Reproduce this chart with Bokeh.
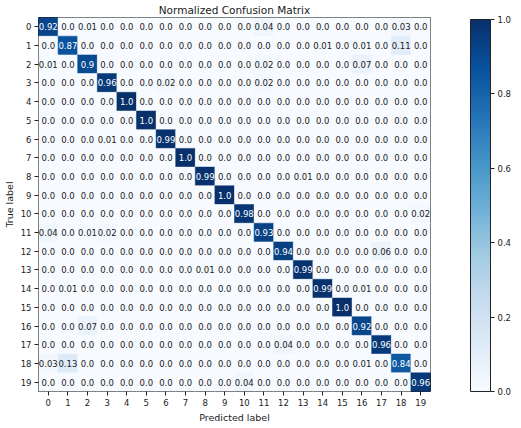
from bokeh.plotting import figure
from bokeh.models import (LinearColorMapper, ColorBar, FixedTicker, Range1d,
                          ColumnDataSource, PrintfTickFormatter)
from bokeh.transform import transform
from bokeh.palettes import Blues256
from bokeh.core.properties import value
from bokeh.embed import file_html
from bokeh.resources import INLINE

class_labels = [str(i) for i in range(20)]
title_text = "Normalized Confusion Matrix"
x_title = "Predicted label"
y_title = "True label"
colorbar_ticks = [0.0, 0.2, 0.4, 0.6, 0.8, 1.0]

# rows = true label, columns = predicted label
confusion = [
    [0.92, 0.0, 0.01, 0.0, 0.0, 0.0, 0.0, 0.0, 0.0, 0.0, 0.0, 0.04, 0.0, 0.0, 0.0, 0.0, 0.0, 0.0, 0.03, 0.0],
    [0.0, 0.87, 0.0, 0.0, 0.0, 0.0, 0.0, 0.0, 0.0, 0.0, 0.0, 0.0, 0.0, 0.0, 0.01, 0.0, 0.01, 0.0, 0.11, 0.0],
    [0.01, 0.0, 0.9, 0.0, 0.0, 0.0, 0.0, 0.0, 0.0, 0.0, 0.0, 0.02, 0.0, 0.0, 0.0, 0.0, 0.07, 0.0, 0.0, 0.0],
    [0.0, 0.0, 0.0, 0.96, 0.0, 0.0, 0.02, 0.0, 0.0, 0.0, 0.0, 0.02, 0.0, 0.0, 0.0, 0.0, 0.0, 0.0, 0.0, 0.0],
    [0.0, 0.0, 0.0, 0.0, 1.0, 0.0, 0.0, 0.0, 0.0, 0.0, 0.0, 0.0, 0.0, 0.0, 0.0, 0.0, 0.0, 0.0, 0.0, 0.0],
    [0.0, 0.0, 0.0, 0.0, 0.0, 1.0, 0.0, 0.0, 0.0, 0.0, 0.0, 0.0, 0.0, 0.0, 0.0, 0.0, 0.0, 0.0, 0.0, 0.0],
    [0.0, 0.0, 0.0, 0.01, 0.0, 0.0, 0.99, 0.0, 0.0, 0.0, 0.0, 0.0, 0.0, 0.0, 0.0, 0.0, 0.0, 0.0, 0.0, 0.0],
    [0.0, 0.0, 0.0, 0.0, 0.0, 0.0, 0.0, 1.0, 0.0, 0.0, 0.0, 0.0, 0.0, 0.0, 0.0, 0.0, 0.0, 0.0, 0.0, 0.0],
    [0.0, 0.0, 0.0, 0.0, 0.0, 0.0, 0.0, 0.0, 0.99, 0.0, 0.0, 0.0, 0.0, 0.01, 0.0, 0.0, 0.0, 0.0, 0.0, 0.0],
    [0.0, 0.0, 0.0, 0.0, 0.0, 0.0, 0.0, 0.0, 0.0, 1.0, 0.0, 0.0, 0.0, 0.0, 0.0, 0.0, 0.0, 0.0, 0.0, 0.0],
    [0.0, 0.0, 0.0, 0.0, 0.0, 0.0, 0.0, 0.0, 0.0, 0.0, 0.98, 0.0, 0.0, 0.0, 0.0, 0.0, 0.0, 0.0, 0.0, 0.02],
    [0.04, 0.0, 0.01, 0.02, 0.0, 0.0, 0.0, 0.0, 0.0, 0.0, 0.0, 0.93, 0.0, 0.0, 0.0, 0.0, 0.0, 0.0, 0.0, 0.0],
    [0.0, 0.0, 0.0, 0.0, 0.0, 0.0, 0.0, 0.0, 0.0, 0.0, 0.0, 0.0, 0.94, 0.0, 0.0, 0.0, 0.0, 0.06, 0.0, 0.0],
    [0.0, 0.0, 0.0, 0.0, 0.0, 0.0, 0.0, 0.0, 0.01, 0.0, 0.0, 0.0, 0.0, 0.99, 0.0, 0.0, 0.0, 0.0, 0.0, 0.0],
    [0.0, 0.01, 0.0, 0.0, 0.0, 0.0, 0.0, 0.0, 0.0, 0.0, 0.0, 0.0, 0.0, 0.0, 0.99, 0.0, 0.01, 0.0, 0.0, 0.0],
    [0.0, 0.0, 0.0, 0.0, 0.0, 0.0, 0.0, 0.0, 0.0, 0.0, 0.0, 0.0, 0.0, 0.0, 0.0, 1.0, 0.0, 0.0, 0.0, 0.0],
    [0.0, 0.0, 0.07, 0.0, 0.0, 0.0, 0.0, 0.0, 0.0, 0.0, 0.0, 0.0, 0.0, 0.0, 0.0, 0.0, 0.92, 0.0, 0.0, 0.0],
    [0.0, 0.0, 0.0, 0.0, 0.0, 0.0, 0.0, 0.0, 0.0, 0.0, 0.0, 0.0, 0.04, 0.0, 0.0, 0.0, 0.0, 0.96, 0.0, 0.0],
    [0.03, 0.13, 0.0, 0.0, 0.0, 0.0, 0.0, 0.0, 0.0, 0.0, 0.0, 0.0, 0.0, 0.0, 0.0, 0.0, 0.01, 0.0, 0.84, 0.0],
    [0.0, 0.0, 0.0, 0.0, 0.0, 0.0, 0.0, 0.0, 0.0, 0.0, 0.04, 0.0, 0.0, 0.0, 0.0, 0.0, 0.0, 0.0, 0.0, 0.96],
]

FONT = "DejaVu Sans"
FRAME_W = 392
FRAME_H = 374
CB_GAP = 40
CB_W = 20

xs, ys, vals, labels, tcolors = [], [], [], [], []
for i, row in enumerate(confusion):
    for j, v in enumerate(row):
        xs.append(j)
        ys.append(i)
        vals.append(v)
        labels.append(str(v))
        tcolors.append("white" if v > 0.5 else "#1a1a1a")

src = ColumnDataSource(dict(x=xs, y=ys, v=vals, label=labels, tc=tcolors))

palette = list(reversed(Blues256))
mapper = LinearColorMapper(palette=palette, low=0.0, high=1.0)

n = len(class_labels)
p = figure(x_range=Range1d(-0.5, n - 0.5), y_range=Range1d(n - 0.5, -0.5),
           frame_width=FRAME_W, frame_height=FRAME_H,
           output_backend="svg", toolbar_location=None, title=title_text)

p.rect(x="x", y="y", width=1, height=1, source=src,
       fill_color=transform("v", mapper), line_color=transform("v", mapper),
       line_width=0.5)
p.text(x="x", y="y", text="label", source=src, text_align="center",
       text_baseline="middle", text_font_size="8.5px", text_color="tc",
       text_font=value(FONT))

for ax in (p.xaxis, p.yaxis):
    ax.ticker = FixedTicker(ticks=list(range(n)))
    ax.major_label_overrides = {i: lab for i, lab in enumerate(class_labels)}
    ax.major_label_text_font = FONT
    ax.major_label_text_font_size = "8.5px"
    ax.major_label_text_color = "#1a1a1a"
    ax.axis_label_text_font = FONT
    ax.axis_label_text_font_size = "9.5px"
    ax.axis_label_text_font_style = "normal"
    ax.axis_label_text_color = "#1a1a1a"
    ax.major_tick_in = 0
    ax.major_tick_out = 4
    ax.major_tick_line_color = "#222222"
    ax.minor_tick_line_color = None
    ax.axis_line_color = None
    ax.major_label_standoff = 3
    ax.axis_label_standoff = 3

p.xaxis.axis_label = x_title
p.yaxis.axis_label = y_title

p.xgrid.visible = False
p.ygrid.visible = False
p.outline_line_color = "#222222"
p.outline_line_width = 1

p.title.align = "center"
p.title.text_font = FONT
p.title.text_font_size = "10.5px"
p.title.text_font_style = "normal"
p.title.text_color = "#1a1a1a"
p.title.standoff = 3
p.min_border_top = 2
p.min_border_left = 2
p.min_border_right = CB_GAP + CB_W + 28
p.min_border_bottom = 2

cb = ColorBar(color_mapper=mapper, ticker=FixedTicker(ticks=colorbar_ticks),
              formatter=PrintfTickFormatter(format="%.1f"),
              width=CB_W, height=FRAME_H - 2, padding=0, margin=0,
              location=(FRAME_W + CB_GAP, 0),
              major_tick_in=0, major_tick_out=4,
              major_tick_line_color="#222222",
              bar_line_color="#222222",
              major_label_text_font=FONT,
              major_label_text_font_size="8.5px",
              major_label_text_color="#1a1a1a",
              label_standoff=3,
              background_fill_color=None,
              border_line_color=None)
p.add_layout(cb, "center")

open("out.html", "w").write(file_html(p, INLINE))
